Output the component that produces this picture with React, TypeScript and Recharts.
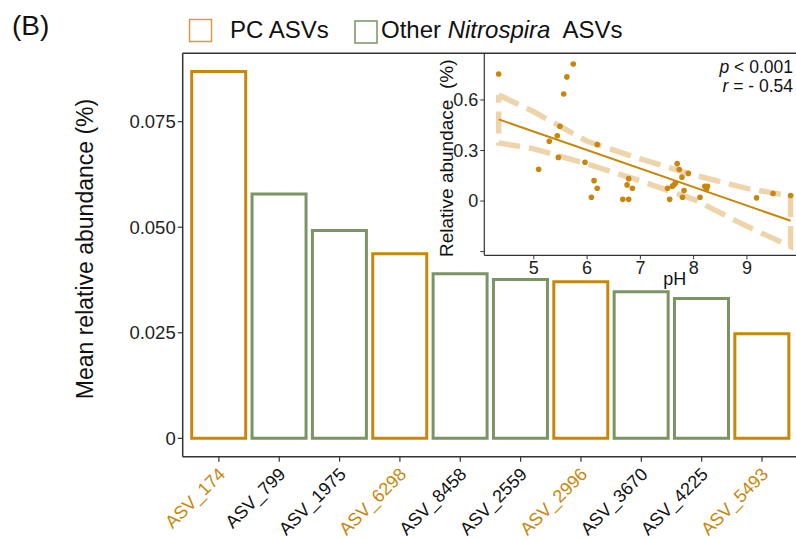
import React from 'react';
import { BarChart, ComposedChart, Bar, Cell, XAxis, YAxis, ReferenceLine, Scatter, Legend } from 'recharts';

// ---------- main bar chart data ----------
const categories = ['ASV_174', 'ASV_799', 'ASV_1975', 'ASV_6298', 'ASV_8458', 'ASV_2559', 'ASV_2996', 'ASV_3670', 'ASV_4225', 'ASV_5493'];
const abundance = [0.0869, 0.0579, 0.0492, 0.0437, 0.039, 0.0376, 0.0371, 0.0347, 0.0331, 0.0248];
const groups = ['PC', 'Other', 'Other', 'PC', 'Other', 'Other', 'PC', 'Other', 'Other', 'PC'];
const yTicks = [0, 0.025, 0.05, 0.075];
const yTickLabels = ['0', '0.025', '0.050', '0.075'];

// ---------- inset scatter data ----------
const phValues = [4.34, 5.74, 5.62, 5.56, 5.49, 5.44, 5.29, 5.46, 5.09, 6.19, 5.96, 6.13, 6.19, 6.08, 6.67, 6.78, 6.78, 6.75, 6.85, 7.51, 7.55, 7.6, 7.63, 7.66, 7.69, 7.73, 7.78, 7.82, 7.79, 7.9, 8.12, 8.21, 8.24, 8.26, 9.18, 9.49, 9.82];
const relAbundance = [0.754, 0.813, 0.737, 0.635, 0.444, 0.388, 0.355, 0.259, 0.189, 0.335, 0.23, 0.121, 0.076, 0.023, 0.01, 0.01, 0.133, 0.096, 0.076, 0.076, 0.01, 0.088, 0.097, 0.107, 0.222, 0.187, 0.142, 0.062, 0.023, 0.164, 0.023, 0.088, 0.072, 0.088, 0.019, 0.045, 0.033];
const fitPh = [4.34, 9.82];
const fitVal = [0.485, -0.117];
const ribbonPh = [4.34, 5.0, 6.0, 7.0, 8.0, 9.0, 9.82, 9.82, 9.0, 8.0, 7.0, 6.0, 5.0, 4.34, 4.34];
const ribbonVal = [0.63, 0.53, 0.355, 0.25, 0.155, 0.075, 0.03, -0.27, -0.15, 0.01, 0.12, 0.22, 0.31, 0.345, 0.63];
const insetXTicks = [5, 6, 7, 8, 9];
const insetYTicks = [-0.3, 0, 0.3, 0.6];
const insetYTickLabels = ['', '0', '0.3', '0.6'];

const ORANGE = '#C8860B';
const ORANGE_LIGHT = '#D29B45';
const GREEN = '#7A9463';
const RIBBON = '#EED4AA';
const AXIS = '#333333';
const FONT = '"Liberation Sans", Arial, sans-serif';

const barData = categories.map((c, i) => ({ name: c, value: abundance[i], group: groups[i] }));
const pointData = phValues.map((p, i) => ({ x: p, y: relAbundance[i] }));
const fitData = fitPh.map((p, i) => ({ x: p, y: fitVal[i] }));
const ribbonData = ribbonPh.map((p, i) => ({ x: p, y: ribbonVal[i] }));

const CatTick = (props: any) => {
  const { x, y, payload } = props;
  const idx = categories.indexOf(payload.value);
  const pc = groups[idx] === 'PC';
  return (
    <g transform={`translate(${x},${y})`}>
      <text x={-3} y={0} dy={13.5} textAnchor="end" transform="rotate(-45)" fontSize={18} fontFamily={FONT} fill={pc ? ORANGE : '#111'}>
        {payload.value}
      </text>
    </g>
  );
};

const renderLegend = () => (
  <svg width={460} height={40} style={{ display: 'block' }}>
    <rect x={1.5} y={3.5} width={22} height={22} fill="none" stroke={ORANGE_LIGHT} strokeWidth={1.5} />
    <text x={42} y={22} fontSize={24} fontFamily={FONT} fill="#111">PC ASVs</text>
    <rect x={167} y={5} width={22} height={22} fill="none" stroke={GREEN} strokeWidth={1.5} />
    <text x={193} y={22} fontSize={24} fontFamily={FONT} fill="#111">
      Other <tspan fontStyle="italic">Nitrospira</tspan>{'\u00A0 ASVs'}
    </text>
  </svg>
);

const Dot = (props: any) => <circle cx={props.cx} cy={props.cy} r={2.8} fill={ORANGE} />;
const NoShape = () => <g />;

export default function App() {
  return (
    <div style={{ position: 'absolute', left: 0, top: 0, width: 796, height: 539, overflow: 'hidden', background: '#fff' }}>
      <div style={{ position: 'absolute', left: 12, top: 10, fontFamily: FONT, fontSize: 28, color: '#111' }}>(B)</div>
      <div style={{ position: 'absolute', left: 0, top: 0 }}>
        <BarChart width={820} height={539} data={barData} margin={{ top: 53.3, right: 21.8, bottom: 0, left: 82.7 }}>
          <XAxis
            dataKey="name"
            type="category"
            interval={0}
            padding={{ left: 6, right: 6 }}
            height={82.3}
            tick={<CatTick />}
            tickSize={5}
            tickLine={{ stroke: AXIS, strokeWidth: 1.2 }}
            axisLine={{ stroke: AXIS, strokeWidth: 1.5 }}
          />
          <YAxis
            type="number"
            width={100}
            domain={[-0.00435, 0.0912]}
            allowDataOverflow
            ticks={yTicks}
            tickFormatter={(v: number) => yTickLabels[yTicks.indexOf(v)] ?? ''}
            tick={{ fontSize: 18.5, fill: '#222', fontFamily: FONT }}
            tickSize={5}
            tickLine={{ stroke: AXIS, strokeWidth: 1.2 }}
            axisLine={{ stroke: AXIS, strokeWidth: 1.5 }}
            label={{ value: 'Mean relative abundance (%)', angle: -90, position: 'insideLeft', offset: 2, dy: -6, style: { textAnchor: 'middle', fontSize: 23, fontFamily: FONT, fill: '#111' } }}
          />
          <ReferenceLine y={0.0912} stroke={AXIS} strokeWidth={1.5} />
          <Bar dataKey="value" barSize={54} fill="#fff" strokeWidth={3} isAnimationActive={false}>
            {barData.map((d) => (
              <Cell key={d.name} stroke={d.group === 'PC' ? ORANGE : GREEN} fill="#fff" />
            ))}
          </Bar>
          <Legend layout="horizontal" verticalAlign="middle" align="center" content={renderLegend} wrapperStyle={{ top: 16, left: 188, width: 460, height: 40 }} />
        </BarChart>
      </div>
      <div style={{ position: 'absolute', left: 400, top: 0 }}>
        <ComposedChart width={420} height={300} margin={{ top: 53.3, right: 15, bottom: 14.7, left: 40.3 }}>
          <XAxis
            type="number"
            dataKey="x"
            domain={[4.07, 10.09]}
            allowDataOverflow
            ticks={insetXTicks}
            height={30}
            tick={{ fontSize: 18, fill: '#222', fontFamily: FONT }}
            tickSize={4}
            tickLine={{ stroke: AXIS }}
            axisLine={{ stroke: AXIS, strokeWidth: 1.2 }}
            label={{ value: 'pH', position: 'insideBottom', offset: 0, dx: 30, style: { fontSize: 18, fontFamily: FONT, fill: '#111' } }}
          />
          <YAxis
            type="number"
            dataKey="y"
            width={44}
            domain={[-0.322, 0.877]}
            allowDataOverflow
            ticks={insetYTicks}
            tickFormatter={(v: number) => insetYTickLabels[insetYTicks.indexOf(v)] ?? ''}
            tick={{ fontSize: 18, fill: '#222', fontFamily: FONT }}
            tickSize={4}
            tickLine={{ stroke: AXIS }}
            axisLine={{ stroke: AXIS, strokeWidth: 1.2 }}
            label={{ value: 'Relative abundace\u00A0 (%)', angle: -90, position: 'insideLeft', offset: 6, dy: 4, style: { textAnchor: 'middle', fontSize: 19, fontFamily: FONT, fill: '#111' } }}
          />
          <Scatter data={ribbonData} fill={RIBBON} line={{ stroke: RIBBON, strokeWidth: 5.5, strokeDasharray: '22 9' }} lineType="joint" shape={NoShape} isAnimationActive={false} />
          <Scatter data={fitData} fill={ORANGE} line={{ stroke: ORANGE, strokeWidth: 2 }} lineType="joint" shape={NoShape} isAnimationActive={false} />
          <Scatter data={pointData} fill={ORANGE} shape={Dot} isAnimationActive={false} />
        </ComposedChart>
      </div>
      <svg style={{ position: 'absolute', left: 0, top: 0 }} width={796} height={539} pointerEvents="none">
        <text x={793} y={73} textAnchor="end" fontSize={17.5} fontFamily={FONT} fill="#111">
          <tspan fontStyle="italic">p</tspan> &lt; 0.001
        </text>
        <text x={793} y={92} textAnchor="end" fontSize={17.5} fontFamily={FONT} fill="#111">
          <tspan fontStyle="italic">r</tspan> = - 0.54
        </text>
      </svg>
    </div>
  );
}
